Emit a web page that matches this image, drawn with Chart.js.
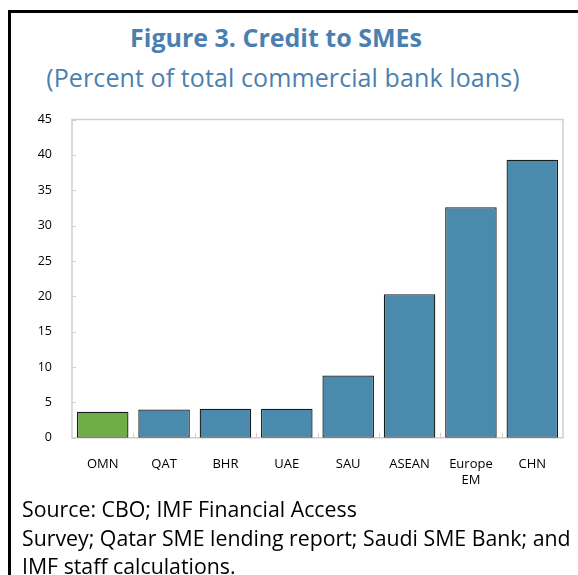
<!DOCTYPE html>
<html>
<head>
<meta charset="utf-8">
<script src="https://cdn.jsdelivr.net/npm/chart.js@4.4.1/dist/chart.umd.min.js"></script>
<style>
    body { margin: 0; width: 578px; height: 575px; background: #fff; overflow: hidden; position: relative; font-family: "Open Sans", sans-serif; }
    .frame { position: absolute; left: 8px; top: 10px; right: -5px; bottom: -5px; border-left: 3px solid #000; border-top: 3px solid #000; }
    .title { position: absolute; left: 0; width: 552px; top: 20px; text-align: center; color: #4A7FB0; font-weight: bold; font-size: 25px; }
    .subtitle { position: absolute; left: 0; width: 566px; top: 60px; text-align: center; color: #4A7FB0; font-size: 25px; letter-spacing: 0.1px; }
    .note { position: absolute; left: 22px; top: 495px; font-size: 21.3px; line-height: 28.5px; color: #000; white-space: nowrap; }
    #wrap { position: absolute; left: 0; top: 100px; width: 578px; height: 399px; }
</style>
</head>
<body>
<div class="frame"></div>
<div class="title">Figure 3. Credit to SMEs</div>
<div class="subtitle">(Percent of total commercial bank loans)</div>
<div id="wrap"><canvas id="myChart"></canvas></div>
<div class="note">Source: CBO; IMF Financial Access<br>Survey; Qatar SME lending report; Saudi SME Bank; and<br>IMF staff calculations.</div>
<script>
const countries = ["OMN", "QAT", "BHR", "UAE", "SAU", "ASEAN", ["Europe", "EM"], "CHN"];
const smeShare = [3.7, 4.0, 4.1, 4.1, 8.8, 20.3, 32.6, 39.3];
const barColors = ["#70AD47", "#4A8AAD", "#4A8AAD", "#4A8AAD", "#4A8AAD", "#4A8AAD", "#4A8AAD", "#4A8AAD"];

// light box round the plot plus short inward tick marks
const plotBox = {
    id: "plotBox",
    beforeDatasetsDraw(chart) {
        const { ctx, chartArea: a, scales } = chart;
        ctx.save();
        ctx.strokeStyle = "#cfcfcf";
        ctx.lineWidth = 1.5;
        ctx.strokeRect(a.left, a.top, a.right - a.left, a.bottom - a.top);
        ctx.lineWidth = 1;
        ctx.beginPath();
        scales.y.ticks.forEach(function (t) {
            const y = Math.round(scales.y.getPixelForValue(t.value)) + 0.5;
            ctx.moveTo(a.left, y);
            ctx.lineTo(a.left + 4, y);
        });
        for (let i = 1; i < countries.length; i++) {
            const x = Math.round((scales.x.getPixelForValue(i - 1) + scales.x.getPixelForValue(i)) / 2) + 0.5;
            ctx.moveTo(x, a.bottom);
            ctx.lineTo(x, a.bottom - 5);
        }
        ctx.stroke();
        ctx.restore();
    },
};

const ctx = document.getElementById("myChart");

new Chart(ctx, {
    type: "bar",
    data: {
        labels: countries,
        datasets: [
            {
                label: "Credit to SMEs",
                data: smeShare,
                backgroundColor: barColors,
                borderColor: "#1a1a1a",
                borderWidth: 1.3,
                borderSkipped: false,
                barPercentage: 0.84,
                categoryPercentage: 1,
            },
        ],
    },
    options: {
        responsive: true,
        maintainAspectRatio: false,
        animation: false,
        layout: { padding: { top: 0, right: 15, left: 0, bottom: 0 } },
        plugins: {
            legend: { display: false },
            tooltip: { enabled: false },
        },
        scales: {
            x: {
                grid: { display: false },
                border: { display: false },
                ticks: { color: "#000", font: { family: "Open Sans", size: 13 }, padding: 11, maxRotation: 0, autoSkip: false },
            },
            y: {
                min: 0,
                max: 45,
                afterFit: function (scale) { scale.width = 72; },
                grid: { display: false },
                border: { display: false },
                ticks: { stepSize: 5, color: "#000", font: { family: "Open Sans", size: 12.5 }, padding: 12 },
            },
        },
    },
    plugins: [plotBox],
});
</script>
</body>
</html>
